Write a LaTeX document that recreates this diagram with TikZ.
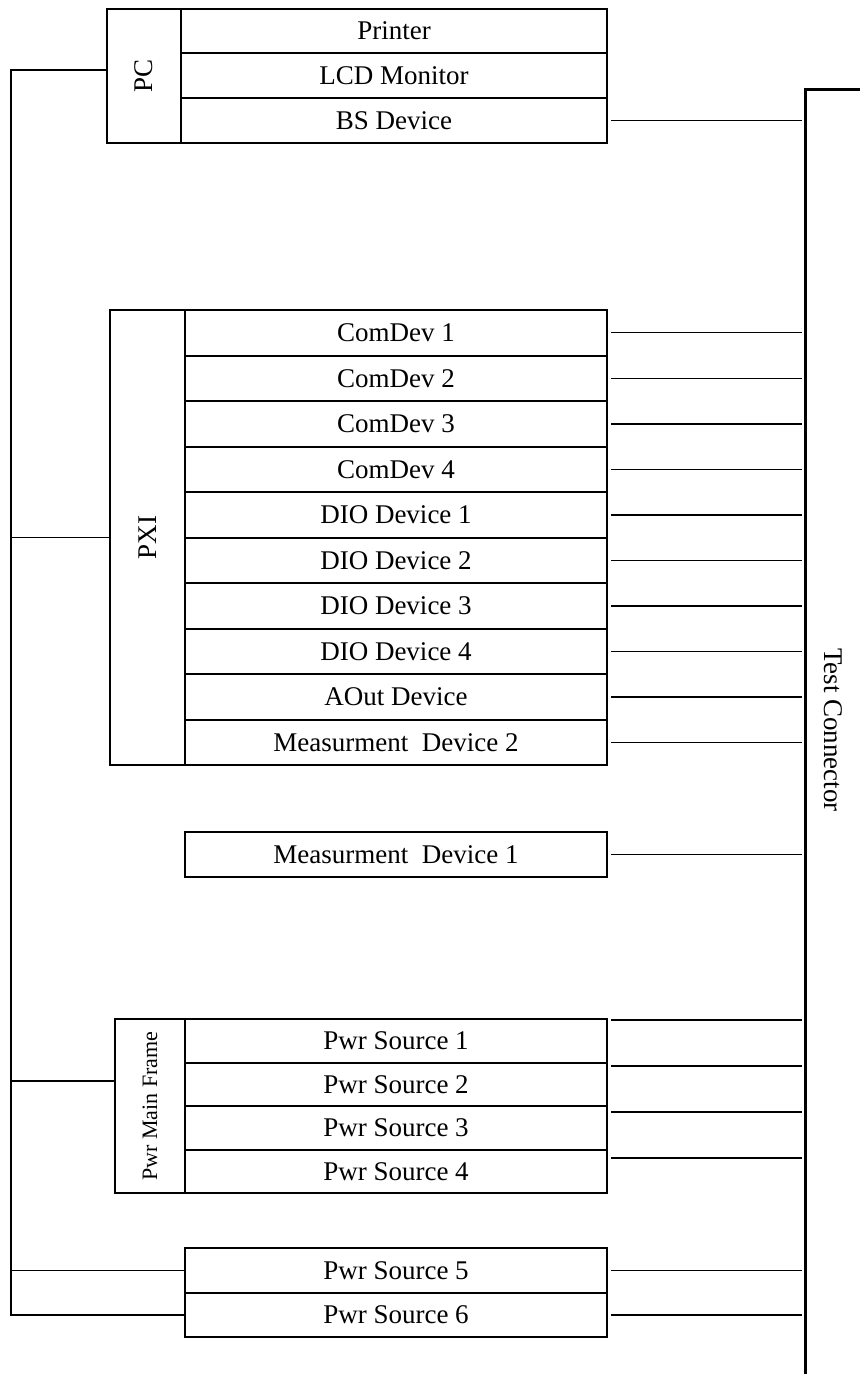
\documentclass[tikz,border=0pt]{standalone}
\usepackage{fontspec}
\setmainfont{Liberation Serif}
\begin{document}
\begin{tikzpicture}[
		x=0.5pt, y=-0.5pt,
		node distance=22.75pt,
		every node/.style={font=\fontsize{13.5}{16}\selectfont},
		row/.style={draw, rectangle, line width=1pt, inner sep=0pt, minimum width=211pt, minimum height=22.75pt},
		unit/.style={draw, rectangle, line width=1pt, inner sep=0pt},
		wire/.style={line width=0.75pt},
		stub/.style={line width=0.75pt, shorten <=1.5pt, shorten >=1.5pt},
		bar/.style={line width=1.5pt}
		]
		
		\useasboundingbox (0,0) rectangle (860,1374);
		
		% PC
		\node (pc) [unit, minimum width=37pt, minimum height=67pt] at (144,76) {\rotatebox{90}{PC}};
		\begin{scope}[node distance=22.4pt, row/.append style={minimum width=213pt, minimum height=22.4pt}]
		\node (printer) [row] at (394,31) {Printer};
		\node (lcd) [row, below of=printer] {LCD Monitor};
		\node (bs) [row, below of=lcd] {BS Device};
		\end{scope}
		
		% PXI
		\node (pxi) [unit, minimum width=37.5pt, minimum height=227.5pt] at (147.5,537.5) {\rotatebox{90}{PXI}};
		\node (cd1) [row] at (396,332.75) {ComDev 1};
		\node (cd2) [row, below of=cd1] {ComDev 2};
		\node (cd3) [row, below of=cd2] {ComDev 3};
		\node (cd4) [row, below of=cd3] {ComDev 4};
		\node (dio1) [row, below of=cd4] {DIO Device 1};
		\node (dio2) [row, below of=dio1] {DIO Device 2};
		\node (dio3) [row, below of=dio2] {DIO Device 3};
		\node (dio4) [row, below of=dio3] {DIO Device 4};
		\node (aout) [row, below of=dio4] {AOut Device};
		\node (md2) [row, below of=aout] {Measurment\ \ Device 2};
		
		\node (md1) [row] at (396,854.5) {Measurment\ \ Device 1};
		
		% power
		\node (pmf) [unit, minimum width=35pt, minimum height=87pt] at (150,1106) {\rotatebox{90}{\fontsize{11}{13}\selectfont Pwr Main Frame}};
		\begin{scope}[node distance=21.75pt, row/.append style={minimum height=21.75pt}]
		\node (ps1) [row] at (396,1040.75) {Pwr Source 1};
		\node (ps2) [row, below of=ps1] {Pwr Source 2};
		\node (ps3) [row, below of=ps2] {Pwr Source 3};
		\node (ps4) [row, below of=ps3] {Pwr Source 4};
		\end{scope}
		\begin{scope}[node distance=22.25pt, row/.append style={minimum height=22.25pt}]
		\node (ps5) [row] at (396,1270.5) {Pwr Source 5};
		\node (ps6) [row, below of=ps5] {Pwr Source 6};
		\end{scope}
		
		% test connector
		\coordinate (hook) at (860,90);
		\coordinate (tc) at (805,90);
		\coordinate (tcend) at (805,1374);
		\draw[bar] (hook) -- (tc) -- (tcend);
		\node (tclabel) at (833,730) {\rotatebox{-90}{Test Connector}};
		
		% left bus
		\coordinate (bus) at (11,70);
		\draw[wire] ([yshift=3pt]pc.west) -- (bus) -- (bus |- ps6.west) -- (ps6.west);
		\draw[wire] (pxi.west) -- (pxi.west -| bus);
		\draw[wire] ([yshift=12.5pt]pmf.west) -- ([yshift=12.5pt]pmf.west -| bus);
		\draw[wire] (ps5.west) -- (ps5.west -| bus);
		
		% stubs to the connector
		\foreach \n in {bs,cd1,cd2,cd3,cd4,dio1,dio2,dio3,dio4,aout,md2,md1,ps5,ps6}
			\draw[stub] (\n.east) -- (\n.east -| tc);
		\foreach \n/\s in {ps1/10.4pt,ps2/9.1pt,ps3/7.9pt,ps4/6.6pt}
			\draw[stub] ([yshift=\s]\n.east) -- ([yshift=\s]\n.east -| tc);
		
	\end{tikzpicture}
\end{document}
